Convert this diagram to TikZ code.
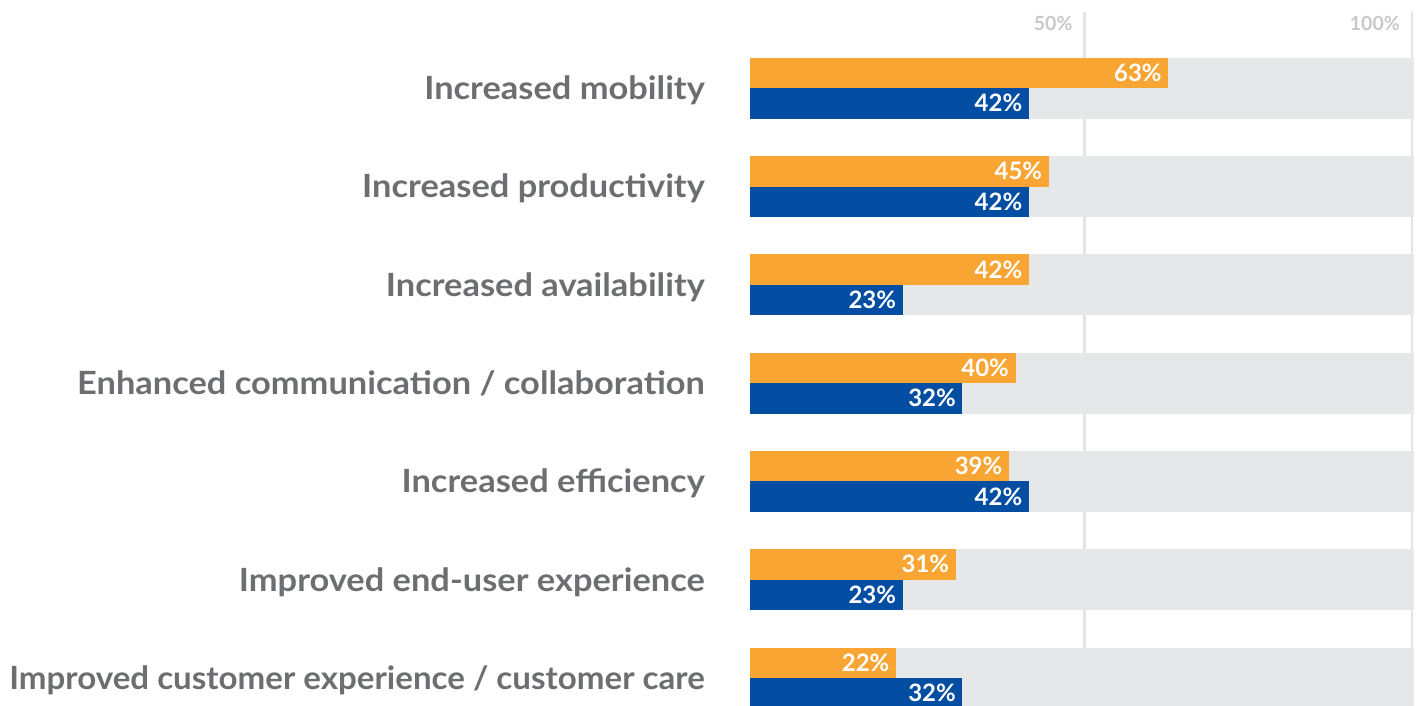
\documentclass[tikz,border=0pt]{standalone}
\usepackage{fontspec}
\setmainfont{Lato}
\newfontfamily\catfont[FakeStretch=1.075]{Lato}
\definecolor{cOrange}{HTML}{F9A533}
\definecolor{cBlue}{HTML}{034EA2}
\definecolor{cTrack}{HTML}{E6E7E8}
\definecolor{cGrid}{HTML}{E3E4E5}
\definecolor{cLabel}{HTML}{6D6E71}
\definecolor{cTick}{HTML}{C7C8CA}
\begin{document}
\begin{tikzpicture}[x=1pt,y=-1pt,
  cat/.style={anchor=base east, inner sep=0pt, text=cLabel, font=\catfont\fontsize{32}{36}\selectfont\bfseries},
  val/.style={anchor=base east, inner sep=0pt, text=white, font=\fontsize{24}{26}\selectfont\bfseries},
  tick/.style={anchor=base east, inner sep=0pt, text=cTick, font=\fontsize{19.5}{22}\selectfont\bfseries},
  track/.style={fill=cTrack},
  gridline/.style={fill=cGrid},
  obar/.style={fill=cOrange},
  bbar/.style={fill=cBlue}]
\useasboundingbox (0,0) rectangle (1419,706);
\fill[gridline] (1083.3,12) rectangle (1086,706);
\fill[gridline] (1410.7,12) rectangle (1413.4,706);
\node[tick] (t50) at (1072.7,31) {50\%};
\node[tick] (t100) at (1400,31) {100\%};
\foreach \i/\lab/\o/\b in {1/{Increased mobility}/63/42,
  2/{Increased productivity}/45/42,
  3/{Increased availability}/42/23,
  4/{Enhanced communication / collaboration}/40/32,
  5/{Increased efficiency}/39/42,
  6/{Improved end-user experience}/31/23,
  7/{\scalebox{0.962}[1]{Improved customer experience / customer care}}/22/32} {
  \pgfmathsetmacro\T{57.7+98.3*(\i-1)}
  \pgfmathsetmacro\xo{750+6.64*\o}
  \pgfmathsetmacro\xb{750+6.64*\b}
  \fill[track] (750,\T) rectangle (1414,\T+61);
  \fill[obar] (750,\T) rectangle (\xo,\T+30.5);
  \fill[bbar] (750,\T+30.5) rectangle (\xb,\T+61);
  \node[val] (ov\i) at (\xo-6.5,\T+15.25+8.5) {\o\%};
  \node[val] (bv\i) at (\xb-6.5,\T+45.75+8.5) {\b\%};
  \node[cat] (lab\i) at (705,\T+30.5+11.4) {\lab};
}
\end{tikzpicture}
\end{document}
